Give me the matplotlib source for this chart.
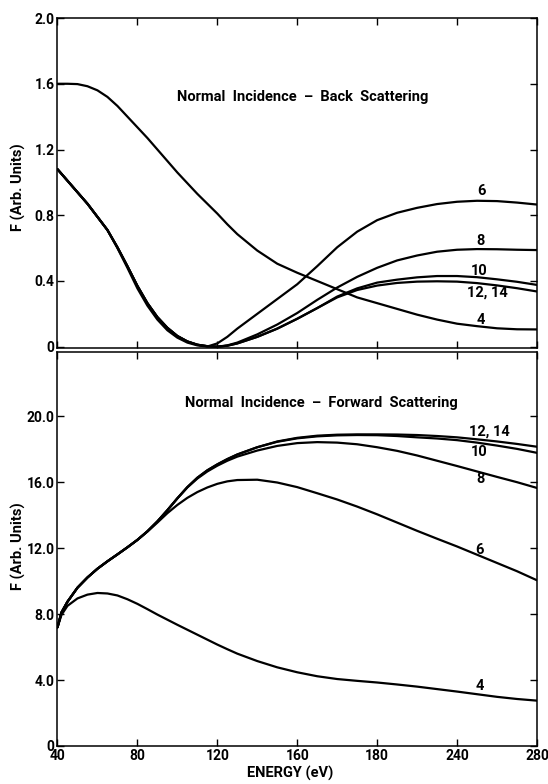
#
# Back and forward scattering intensity F versus electron energy at normal
# incidence, one curve per cluster size, two stacked panels.
#

import matplotlib
matplotlib.use('Agg')
import matplotlib.pyplot as plt


# back scattering panel
energy_back = [40, 45, 50, 55, 60, 65, 70, 75, 80, 85, 90, 95, 100, 105,
               110, 115, 120, 125, 130, 140, 150, 160, 170, 180, 190, 200,
               210, 220, 230, 240, 250, 260, 270, 280]
back_4 = [1.60, 1.60, 1.598, 1.585, 1.56, 1.52, 1.465, 1.40, 1.335, 1.27,
          1.20, 1.13, 1.06, 0.995, 0.93, 0.87, 0.81, 0.745, 0.685, 0.585,
          0.505, 0.45, 0.40, 0.35, 0.30, 0.265, 0.23, 0.195, 0.165, 0.14,
          0.125, 0.112, 0.106, 0.105]
back_6 = [1.08, 1.01, 0.94, 0.87, 0.79, 0.71, 0.60, 0.48, 0.355, 0.25,
          0.165, 0.10, 0.055, 0.025, 0.008, 0.001, 0.02, 0.06, 0.11, 0.20,
          0.29, 0.38, 0.49, 0.605, 0.70, 0.77, 0.815, 0.845, 0.868, 0.882,
          0.888, 0.886, 0.877, 0.865]
back_8 = [1.08, 1.01, 0.94, 0.87, 0.79, 0.71, 0.605, 0.49, 0.37, 0.265,
          0.18, 0.115, 0.065, 0.032, 0.012, 0.003, 0.0, 0.008, 0.025, 0.075,
          0.135, 0.205, 0.285, 0.36, 0.425, 0.48, 0.525, 0.555, 0.578, 0.59,
          0.594, 0.593, 0.59, 0.588]
back_10 = [1.08, 1.01, 0.94, 0.87, 0.79, 0.71, 0.605, 0.49, 0.37, 0.265,
           0.18, 0.115, 0.065, 0.032, 0.012, 0.003, 0.0, 0.006, 0.02, 0.06,
           0.11, 0.17, 0.235, 0.305, 0.355, 0.39, 0.408, 0.422, 0.43, 0.43,
           0.423, 0.41, 0.395, 0.376]
back_12_14 = [1.08, 1.01, 0.94, 0.87, 0.79, 0.71, 0.605, 0.49, 0.37, 0.265,
              0.18, 0.115, 0.065, 0.032, 0.012, 0.003, 0.0, 0.006, 0.02, 0.06,
              0.11, 0.17, 0.235, 0.30, 0.345, 0.372, 0.388, 0.396, 0.398,
              0.396, 0.387, 0.373, 0.356, 0.336]

# forward scattering panel
energy_fwd = [40, 42, 45, 50, 55, 60, 65, 70, 75, 80, 85, 90, 95, 100, 105,
              110, 115, 120, 125, 130, 140, 150, 160, 170, 180, 190, 200, 210,
              220, 230, 240, 250, 260, 270, 280]
fwd_4 = [7.2, 7.95, 8.5, 8.95, 9.18, 9.28, 9.25, 9.13, 8.9, 8.62, 8.3, 7.97,
         7.66, 7.35, 7.05, 6.75, 6.45, 6.15, 5.87, 5.6, 5.15, 4.77, 4.47,
         4.23, 4.06, 3.95, 3.85, 3.73, 3.6, 3.45, 3.3, 3.14, 2.98, 2.85, 2.75]
fwd_6 = [7.2, 8.1, 8.75, 9.6, 10.22, 10.75, 11.2, 11.62, 12.05, 12.5, 13.0,
         13.55, 14.12, 14.62, 15.05, 15.4, 15.68, 15.9, 16.05, 16.13, 16.15,
         15.98, 15.7, 15.33, 14.95, 14.52, 14.05, 13.55, 13.05, 12.57, 12.1,
         11.6, 11.1, 10.6, 10.05]
fwd_8 = [7.2, 8.1, 8.75, 9.6, 10.22, 10.75, 11.2, 11.62, 12.05, 12.5, 13.02,
         13.62, 14.3, 15.02, 15.68, 16.22, 16.65, 17.0, 17.3, 17.55, 17.92,
         18.2, 18.37, 18.43, 18.4, 18.3, 18.12, 17.9, 17.62, 17.3, 16.98,
         16.65, 16.32, 16.0, 15.65]
fwd_10 = [7.2, 8.1, 8.75, 9.6, 10.22, 10.75, 11.2, 11.62, 12.05, 12.5, 13.02,
          13.62, 14.3, 15.02, 15.7, 16.27, 16.72, 17.08, 17.4, 17.68, 18.12,
          18.45, 18.66, 18.78, 18.84, 18.86, 18.85, 18.8, 18.72, 18.65, 18.55,
          18.4, 18.22, 18.02, 17.78]
fwd_12_14 = [7.2, 8.1, 8.75, 9.6, 10.22, 10.75, 11.2, 11.62, 12.05, 12.5,
             13.02, 13.62, 14.3, 15.02, 15.7, 16.27, 16.72, 17.08, 17.4,
             17.68, 18.12, 18.47, 18.69, 18.82, 18.88, 18.9, 18.9, 18.89,
             18.86, 18.8, 18.72, 18.6, 18.47, 18.32, 18.15]

x_ticks = [40, 80, 120, 160, 200, 240, 280]
x_tick_labels = ['40', '80', '120', '160', '180', '240', '280']
back_ticks = [0, 0.4, 0.8, 1.2, 1.6, 2.0]
back_tick_labels = ['0', '0.4', '0.8', '1.2', '1.6', '2.0']
fwd_ticks = [0, 4, 8, 12, 16, 20]
fwd_tick_labels = ['0', '4.0', '8.0', '12.0', '16.0', '20.0']

# (label, x, y) for the curve labels
back_labels = [('6', 252, 0.95), ('8', 252, 0.645), ('10', 251, 0.462),
               ('12, 14', 255, 0.33), ('4', 252, 0.165)]
fwd_labels = [('12, 14', 256, 19.1), ('10', 251, 17.85), ('8', 252, 16.2),
              ('6', 251, 11.9), ('4', 251.5, 3.66)]

FS = 10.5
plt.rcParams['font.family'] = ['Roboto', 'DejaVu Sans']
plt.rcParams['font.weight'] = 'bold'
plt.rcParams['font.size'] = FS


def style_axes(ax):
    for spine in ax.spines.values():
        spine.set_linewidth(1.1)
    ax.tick_params(direction='in', length=5, width=1.0, top=True, right=True,
                   labelsize=10, pad=2)
    ax.set_xlim(40, 280)
    ax.set_xticks(x_ticks)


fig = plt.figure(figsize=(5.48, 7.84), dpi=100)
ax_back = fig.add_axes([0.1049, 0.5561, 0.875, 0.4209])
ax_fwd = fig.add_axes([0.1049, 0.0485, 0.875, 0.5026])

line_kw = dict(color='black', linewidth=1.6, solid_capstyle='round',
               solid_joinstyle='round')

for series in (back_4, back_6, back_8, back_10, back_12_14):
    ax_back.plot(energy_back, series, **line_kw)
for series in (fwd_4, fwd_6, fwd_8, fwd_10, fwd_12_14):
    ax_fwd.plot(energy_fwd, series, **line_kw)

style_axes(ax_back)
ax_back.set_ylim(-0.008, 2.0)
ax_back.set_yticks(back_ticks)
ax_back.set_yticklabels(back_tick_labels)
ax_back.set_xticklabels([])

style_axes(ax_fwd)
ax_fwd.set_ylim(0, 23.9)
ax_fwd.set_yticks(fwd_ticks)
ax_fwd.set_yticklabels(fwd_tick_labels)
ax_fwd.set_xticklabels(x_tick_labels)

for text, x, y in back_labels:
    ax_back.text(x, y, text, ha='center', va='center', fontsize=FS)
for text, x, y in fwd_labels:
    ax_fwd.text(x, y, text, ha='center', va='center', fontsize=FS)

ax_back.text(0.511, 0.762, 'Normal  Incidence  \u2013  Back  Scattering',
             transform=ax_back.transAxes, ha='center', va='center',
             fontsize=FS)
ax_fwd.text(0.55, 0.87, 'Normal  Incidence  \u2013  Forward  Scattering',
            transform=ax_fwd.transAxes, ha='center', va='center',
            fontsize=FS)

fig.text(0.033, 0.7615, 'F (Arb. Units)', rotation=90, ha='center',
         va='center', fontsize=FS)
fig.text(0.033, 0.3036, 'F (Arb. Units)', rotation=90, ha='center',
         va='center', fontsize=FS)
fig.text(0.529, 0.014, 'ENERGY (eV)', ha='center', va='center',
         fontsize=FS)

fig.savefig('out.png', dpi=100)
